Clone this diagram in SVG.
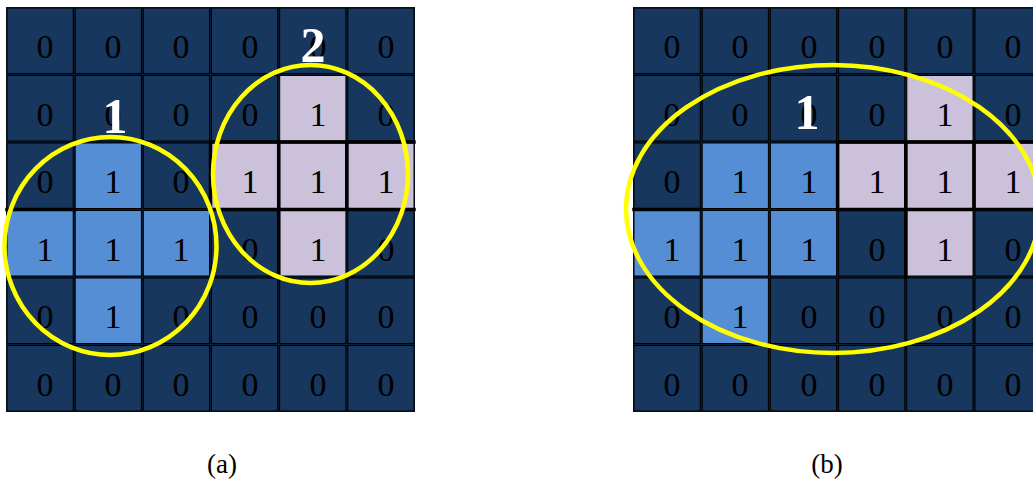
<svg xmlns="http://www.w3.org/2000/svg" width="1033" height="483" viewBox="0 0 1033 483">
<style>
.n{fill:#17375E;stroke:#000;stroke-width:1}
.b{fill:#558ED5;stroke:#000;stroke-width:1}
.l{fill:#CCC1DA;stroke:#000;stroke-width:1}
.bg{fill:#0d1e33}
.d{font-family:"Liberation Serif","Times New Roman",serif;font-size:34px;fill:#000;text-anchor:middle}
.k{stroke:#000;stroke-width:3.5;fill:none;stroke-linecap:square}
.e{fill:none;stroke:#FFFF00;stroke-width:4.5}
.lab{font-family:"Liberation Serif","Times New Roman",serif;font-size:50px;font-weight:bold;fill:#fff;text-anchor:middle}
.cap{font-family:"Liberation Serif","Times New Roman",serif;font-size:27px;fill:#000;text-anchor:middle}
</style>
<rect width="1033" height="483" fill="#fff"/>
<g id="grid-a">
<rect class="bg" x="6" y="7" width="409" height="405"/>
<!-- row 0 -->
<rect class="n" x="7" y="8" width="66.2" height="65.5"/><text class="d" x="45" y="58">0</text>
<rect class="n" x="75.2" y="8" width="66.2" height="65.5"/><text class="d" x="113" y="58">0</text>
<rect class="n" x="143.3" y="8" width="66.2" height="65.5"/><text class="d" x="181" y="58">0</text>
<rect class="n" x="211.5" y="8" width="66.2" height="65.5"/><text class="d" x="250" y="58">0</text>
<rect class="n" x="279.7" y="8" width="66.2" height="65.5"/><text class="d" x="318" y="58">0</text>
<rect class="n" x="347.8" y="8" width="66.2" height="65.5"/><text class="d" x="386" y="58">0</text>
<!-- row 1 -->
<rect class="n" x="7" y="75.5" width="66.2" height="65.5"/><text class="d" x="45" y="126">0</text>
<rect class="n" x="75.2" y="75.5" width="66.2" height="65.5"/><text class="d" x="113" y="126">0</text>
<rect class="n" x="143.3" y="75.5" width="66.2" height="65.5"/><text class="d" x="181" y="126">0</text>
<rect class="n" x="211.5" y="75.5" width="66.2" height="65.5"/><text class="d" x="250" y="126">0</text>
<rect class="l" x="279.7" y="75.5" width="66.2" height="65.5"/><text class="d" x="318" y="126">1</text>
<rect class="n" x="347.8" y="75.5" width="66.2" height="65.5"/><text class="d" x="386" y="126">0</text>
<!-- row 2 -->
<rect class="n" x="7" y="143" width="66.2" height="65.5"/><text class="d" x="45" y="193">0</text>
<rect class="b" x="75.2" y="143" width="66.2" height="65.5"/><text class="d" x="113" y="193">1</text>
<rect class="n" x="143.3" y="143" width="66.2" height="65.5"/><text class="d" x="181" y="193">0</text>
<rect class="l" x="211.5" y="143" width="66.2" height="65.5"/><text class="d" x="250" y="193">1</text>
<rect class="l" x="279.7" y="143" width="66.2" height="65.5"/><text class="d" x="318" y="193">1</text>
<rect class="l" x="347.8" y="143" width="66.2" height="65.5"/><text class="d" x="386" y="193">1</text>
<!-- row 3 -->
<rect class="b" x="7" y="210.5" width="66.2" height="65.5"/><text class="d" x="45" y="261">1</text>
<rect class="b" x="75.2" y="210.5" width="66.2" height="65.5"/><text class="d" x="113" y="261">1</text>
<rect class="b" x="143.3" y="210.5" width="66.2" height="65.5"/><text class="d" x="181" y="261">1</text>
<rect class="n" x="211.5" y="210.5" width="66.2" height="65.5"/><text class="d" x="250" y="261">0</text>
<rect class="l" x="279.7" y="210.5" width="66.2" height="65.5"/><text class="d" x="318" y="261">1</text>
<rect class="n" x="347.8" y="210.5" width="66.2" height="65.5"/><text class="d" x="386" y="261">0</text>
<!-- row 4 -->
<rect class="n" x="7" y="278" width="66.2" height="65.5"/><text class="d" x="45" y="328">0</text>
<rect class="b" x="75.2" y="278" width="66.2" height="65.5"/><text class="d" x="113" y="328">1</text>
<rect class="n" x="143.3" y="278" width="66.2" height="65.5"/><text class="d" x="181" y="328">0</text>
<rect class="n" x="211.5" y="278" width="66.2" height="65.5"/><text class="d" x="250" y="328">0</text>
<rect class="n" x="279.7" y="278" width="66.2" height="65.5"/><text class="d" x="318" y="328">0</text>
<rect class="n" x="347.8" y="278" width="66.2" height="65.5"/><text class="d" x="386" y="328">0</text>
<!-- row 5 -->
<rect class="n" x="7" y="345.5" width="66.2" height="65.5"/><text class="d" x="45" y="396">0</text>
<rect class="n" x="75.2" y="345.5" width="66.2" height="65.5"/><text class="d" x="113" y="396">0</text>
<rect class="n" x="143.3" y="345.5" width="66.2" height="65.5"/><text class="d" x="181" y="396">0</text>
<rect class="n" x="211.5" y="345.5" width="66.2" height="65.5"/><text class="d" x="250" y="396">0</text>
<rect class="n" x="279.7" y="345.5" width="66.2" height="65.5"/><text class="d" x="318" y="396">0</text>
<rect class="n" x="347.8" y="345.5" width="66.2" height="65.5"/><text class="d" x="386" y="396">0</text>
<path class="k" d="M210.5 142H414M210.5 209.5H414M7 209.5H74M210.5 142V209.5M278.7 142V277M346.8 142V209.5"/>
</g>
<g id="grid-b">
<rect class="bg" x="633" y="7" width="409" height="405"/>
<!-- row 0 -->
<rect class="n" x="634" y="8" width="66.2" height="65.5"/><text class="d" x="672" y="58">0</text>
<rect class="n" x="702.2" y="8" width="66.2" height="65.5"/><text class="d" x="740" y="58">0</text>
<rect class="n" x="770.4" y="8" width="66.2" height="65.5"/><text class="d" x="809" y="58">0</text>
<rect class="n" x="838.6" y="8" width="66.2" height="65.5"/><text class="d" x="877" y="58">0</text>
<rect class="n" x="906.8" y="8" width="66.2" height="65.5"/><text class="d" x="945" y="58">0</text>
<rect class="n" x="975" y="8" width="66.2" height="65.5"/><text class="d" x="1013" y="58">0</text>
<!-- row 1 -->
<rect class="n" x="634" y="75.5" width="66.2" height="65.5"/><text class="d" x="672" y="126">0</text>
<rect class="n" x="702.2" y="75.5" width="66.2" height="65.5"/><text class="d" x="740" y="126">0</text>
<rect class="n" x="770.4" y="75.5" width="66.2" height="65.5"/><text class="d" x="809" y="126">0</text>
<rect class="n" x="838.6" y="75.5" width="66.2" height="65.5"/><text class="d" x="877" y="126">0</text>
<rect class="l" x="906.8" y="75.5" width="66.2" height="65.5"/><text class="d" x="945" y="126">1</text>
<rect class="n" x="975" y="75.5" width="66.2" height="65.5"/><text class="d" x="1013" y="126">0</text>
<!-- row 2 -->
<rect class="n" x="634" y="143" width="66.2" height="65.5"/><text class="d" x="672" y="193">0</text>
<rect class="b" x="702.2" y="143" width="66.2" height="65.5"/><text class="d" x="740" y="193">1</text>
<rect class="b" x="770.4" y="143" width="66.2" height="65.5"/><text class="d" x="809" y="193">1</text>
<rect class="l" x="838.6" y="143" width="66.2" height="65.5"/><text class="d" x="877" y="193">1</text>
<rect class="l" x="906.8" y="143" width="66.2" height="65.5"/><text class="d" x="945" y="193">1</text>
<rect class="l" x="975" y="143" width="66.2" height="65.5"/><text class="d" x="1013" y="193">1</text>
<!-- row 3 -->
<rect class="b" x="634" y="210.5" width="66.2" height="65.5"/><text class="d" x="672" y="261">1</text>
<rect class="b" x="702.2" y="210.5" width="66.2" height="65.5"/><text class="d" x="740" y="261">1</text>
<rect class="b" x="770.4" y="210.5" width="66.2" height="65.5"/><text class="d" x="809" y="261">1</text>
<rect class="n" x="838.6" y="210.5" width="66.2" height="65.5"/><text class="d" x="877" y="261">0</text>
<rect class="l" x="906.8" y="210.5" width="66.2" height="65.5"/><text class="d" x="945" y="261">1</text>
<rect class="n" x="975" y="210.5" width="66.2" height="65.5"/><text class="d" x="1013" y="261">0</text>
<!-- row 4 -->
<rect class="n" x="634" y="278" width="66.2" height="65.5"/><text class="d" x="672" y="328">0</text>
<rect class="b" x="702.2" y="278" width="66.2" height="65.5"/><text class="d" x="740" y="328">1</text>
<rect class="n" x="770.4" y="278" width="66.2" height="65.5"/><text class="d" x="809" y="328">0</text>
<rect class="n" x="838.6" y="278" width="66.2" height="65.5"/><text class="d" x="877" y="328">0</text>
<rect class="n" x="906.8" y="278" width="66.2" height="65.5"/><text class="d" x="945" y="328">0</text>
<rect class="n" x="975" y="278" width="66.2" height="65.5"/><text class="d" x="1013" y="328">0</text>
<!-- row 5 -->
<rect class="n" x="634" y="345.5" width="66.2" height="65.5"/><text class="d" x="672" y="396">0</text>
<rect class="n" x="702.2" y="345.5" width="66.2" height="65.5"/><text class="d" x="740" y="396">0</text>
<rect class="n" x="770.4" y="345.5" width="66.2" height="65.5"/><text class="d" x="809" y="396">0</text>
<rect class="n" x="838.6" y="345.5" width="66.2" height="65.5"/><text class="d" x="877" y="396">0</text>
<rect class="n" x="906.8" y="345.5" width="66.2" height="65.5"/><text class="d" x="945" y="396">0</text>
<rect class="n" x="975" y="345.5" width="66.2" height="65.5"/><text class="d" x="1013" y="396">0</text>
<path class="k" d="M837.6 142H1041M837.6 209.5H1041M634 209.5H701M837.6 142V209.5M905.8 142V277M974 142V209.5"/>
</g>
<g id="regions">
<ellipse id="region-a1" class="e" cx="110.5" cy="246" rx="106" ry="109"/>
<ellipse id="region-a2" class="e" cx="310.5" cy="174" rx="97.5" ry="109"/>
<ellipse id="region-b1" class="e" cx="833" cy="209" rx="207" ry="144"/>
</g>
<g id="labels">
<text class="lab" x="115" y="133">1</text>
<text class="lab" x="313" y="62">2</text>
<text class="lab" x="807" y="129">1</text>
<text class="cap" x="222" y="473">(a)</text>
<text class="cap" x="827" y="473">(b)</text>
</g>
</svg>
